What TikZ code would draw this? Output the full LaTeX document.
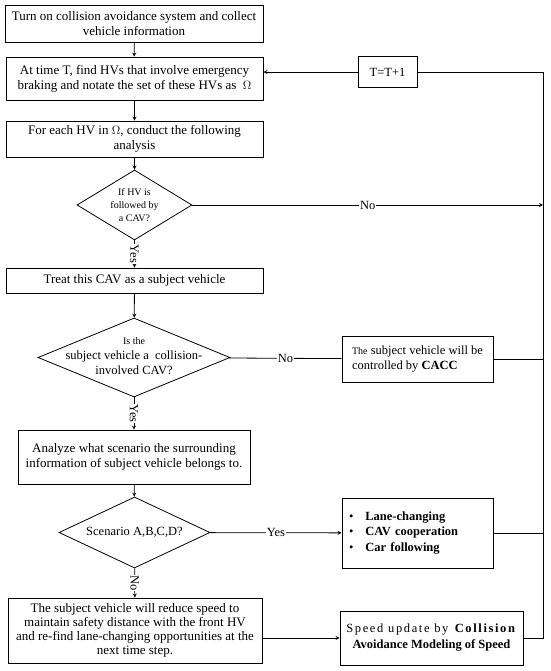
\documentclass[tikz,border=0pt]{standalone}
\usepackage{fontspec}
\setmainfont{Liberation Serif}
\usetikzlibrary{shapes.geometric}

\begin{document}
\begin{tikzpicture}[x=1pt,y=-1pt,line width=0.8pt,>=stealth,
  box/.style={draw,rectangle,inner sep=2pt,align=center,
    font=\fontsize{13}{15}\selectfont},
  decide/.style={draw,diamond,inner sep=0pt},
  dtext/.style={align=center,inner sep=0pt,font=\fontsize{12.5}{15}\selectfont},
  lab/.style={fill=white,inner sep=0.6pt,font=\fontsize{12.5}{14}\selectfont}]
\useasboundingbox (0,0) rectangle (550,671);
% main column
\node[box,minimum width=258pt,minimum height=37pt] (start) at (134,24)
  {Turn on collision avoidance system and collect\\vehicle information};
\node[box,minimum width=257pt,minimum height=43pt] (omega) at (134.5,78.5)
  {At time T, find HVs that involve emergency\\braking and notate the set of these HVs as \ $\Omega$};
\node[box,minimum width=257pt,minimum height=36pt] (each) at (134.5,139)
  {For each HV in $\Omega$, conduct the following\\analysis};
\node[decide,minimum width=115pt,minimum height=70pt] (hv) at (134.5,205) {};
\node[dtext,font=\fontsize{10}{13}\selectfont] (hvt) at (hv) {If HV is\\followed by\\a CAV?};
\node[box,minimum width=257pt,minimum height=25pt] (treat) at (134.5,280.5)
  {Treat this CAV as a subject vehicle};
\node[decide,minimum width=192pt,minimum height=79pt] (inv) at (134,357.5) {};
\node[dtext] (invt) at (134,356)
  {{\fontsize{10}{12}\selectfont Is the}\\subject vehicle a \ collision-\\involved CAV?};
\node[box,minimum width=232pt,minimum height=54pt] (scene) at (134,457)
  {Analyze what scenario the surrounding\\information of subject vehicle belongs to.};
\node[decide,minimum width=151pt,minimum height=71pt] (abcd) at (134.5,532.5) {};
\node[dtext] (abcdt) at (abcd) {Scenario A,B,C,D?};
\node[box,minimum width=254pt,minimum height=65pt,font=\fontsize{13}{14}\selectfont] (slow) at (135,630.5)
  {The subject vehicle will reduce speed to\\maintain safety distance with the front HV\\and re-find lane-changing opportunities at the\\next time step.};
% right column
\node[box,minimum width=59pt,minimum height=31pt,font=\fontsize{12.5}{14}\selectfont] (tick) at (387.5,72) {T=T+1};
\node[box,minimum width=151pt,minimum height=46pt,align=left,font=\fontsize{12.5}{15}\selectfont] (cacc) at (417.5,359)
  {{\fontsize{10}{15}\selectfont The} subject vehicle will be\\controlled by \textbf{CACC}};
\node[box,minimum width=151pt,minimum height=70pt,text width=137pt,align=left,font=\fontsize{12.5}{15.5}\selectfont] (modes) at (417.5,533)
  {\textbullet\hspace{12pt}\textbf{Lane-changing}\\\textbullet\hspace{12pt}\textbf{CAV cooperation}\\\textbullet\hspace{12pt}\textbf{Car following}};
\node[box,minimum width=183pt,minimum height=54pt,font=\fontsize{12.5}{16}\selectfont] (speed) at (431.5,638)
  {{\addfontfeature{LetterSpace=13}Speed update by \textbf{Collision}}\\\textbf{Avoidance Modeling of Speed}};
\coordinate (rail) at (543,72);
% connectors
\draw[->] (start) -- (omega);
\draw[->] (omega) -- (each);
\draw[->] (each) -- (hv);
\draw[->] (hv) -- node[lab,rotate=-90] {Yes} (treat);
\draw[->] (treat) -- (inv);
\draw[->] (inv) -- node[lab,rotate=-90] {Yes} (scene);
\draw[->] (scene) -- (abcd);
\draw[->] (abcd) -- node[lab,rotate=-90] {No} (slow);
\draw[->] (hv) -- node[lab] {No} (hv -| rail);
\draw (inv) -- node[lab] {No} (cacc);
\draw[->] (abcd) -- node[lab] {Yes} (modes);
\draw[->] (slow.east |- speed) -- (speed);
\draw (cacc) -- (cacc -| rail);
\draw (modes) -- (modes -| rail);
% loop back
\draw (speed) -- (speed -| rail) -- (rail) -- (tick);
\draw[->] (tick) -- (omega.east |- tick);
\end{tikzpicture}
\end{document}
